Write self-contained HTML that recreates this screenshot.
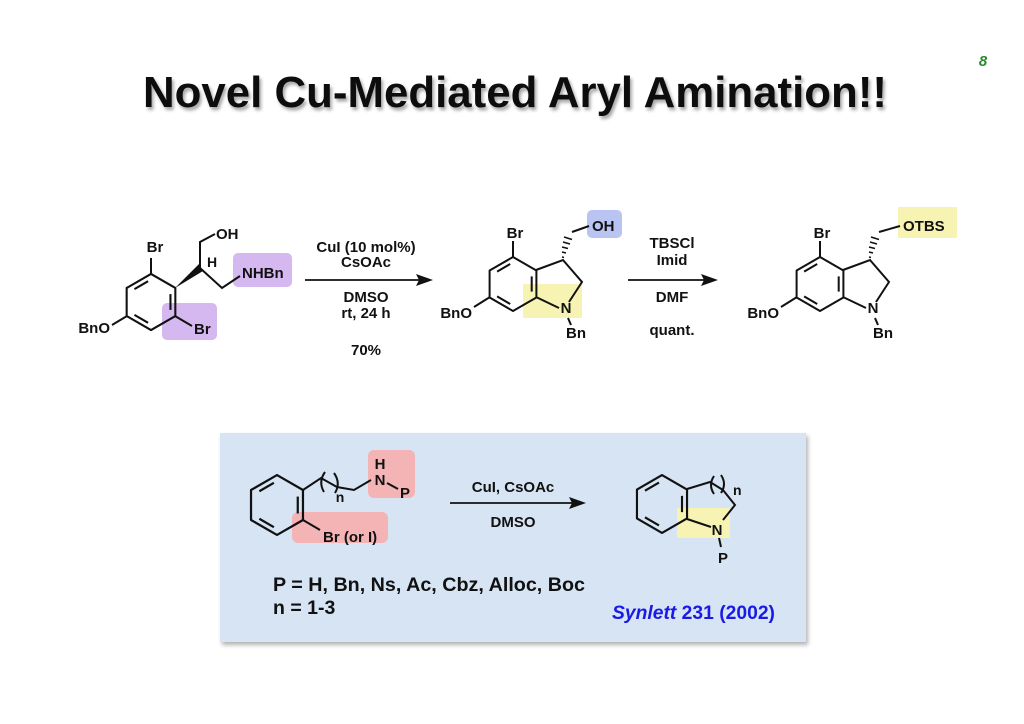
<!DOCTYPE html>
<html><head><meta charset="utf-8"><style>
html,body{margin:0;padding:0;background:#fff;}
svg{display:block;}
text{font-family:"Liberation Sans",Arial,sans-serif;font-weight:bold;fill:#111;}
</style></head><body>
<svg width="1024" height="724" viewBox="0 0 1024 724" xmlns="http://www.w3.org/2000/svg">
<defs>
<filter id="sh" x="-10%" y="-10%" width="130%" height="150%"><feDropShadow dx="2" dy="3" stdDeviation="1.5" flood-color="#000" flood-opacity="0.35"/></filter>
<filter id="bs" x="-5%" y="-5%" width="110%" height="115%"><feDropShadow dx="2" dy="3" stdDeviation="2" flood-color="#000" flood-opacity="0.3"/></filter>
<g id="ring" fill="none" stroke="#111" stroke-width="2" stroke-linejoin="round">
<polygon points="0,-27 23.4,-13.5 23.4,13.5 0,27 -23.4,13.5 -23.4,-13.5"/>
<line x1="-2.8" y1="-20" x2="-15.9" y2="-12.4"/>
<line x1="18.7" y1="-7.6" x2="18.7" y2="7.6"/>
<line x1="-2.8" y1="20" x2="-15.9" y2="12.4"/>
</g>
</defs>

<text x="515" y="107" font-size="44" text-anchor="middle" textLength="744" lengthAdjust="spacingAndGlyphs" filter="url(#sh)">Novel Cu-Mediated Aryl Amination!!</text>
<text x="983" y="66" font-size="15" font-style="italic" style="fill:#2a8a2a" text-anchor="middle">8</text>

<!-- Compound 1 -->
<rect x="233" y="253" width="59" height="34" rx="5" fill="#d6b8f0"/>
<rect x="162" y="303" width="55" height="37" rx="5" fill="#d6b8f0"/>
<use href="#ring" transform="translate(151,302) scale(1.04)"/>
<g stroke="#111" stroke-width="2" fill="none">
<line x1="151" y1="274" x2="151" y2="258"/>
<line x1="127" y1="316" x2="112" y2="325"/>
<line x1="175" y1="316" x2="192" y2="326"/>
<polyline points="200,268 200,242 215,234"/>
<polyline points="200,268 222,288 240,276"/>
</g>
<polygon points="175,288 199,264 203,271" fill="#111"/>
<g font-size="15">
<text x="155" y="252" text-anchor="middle">Br</text>
<text x="110" y="333" text-anchor="end">BnO</text>
<text x="194" y="334">Br</text>
<text x="216" y="239">OH</text>
<text x="242" y="278">NHBn</text>
</g>
<text x="207" y="267" font-size="14">H</text>

<!-- Arrow 1 -->
<line x1="305" y1="280" x2="422" y2="280" stroke="#111" stroke-width="1.8"/>
<polygon points="433,280 416,274 419,280 416,286" fill="#111"/>
<g font-size="15" text-anchor="middle">
<text x="366" y="252">CuI (10 mol%)</text>
<text x="366" y="267">CsOAc</text>
<text x="366" y="302">DMSO</text>
<text x="366" y="318">rt, 24 h</text>
<text x="366" y="355">70%</text>
</g>

<!-- Compound 2 -->
<rect x="523" y="284" width="59" height="34" fill="#f7f3b3"/>
<rect x="587" y="210" width="35" height="28" rx="5" fill="#b9c4f2"/>
<use href="#ring" transform="translate(513,284)"/>
<g stroke="#111" stroke-width="2" fill="none">
<line x1="513" y1="257" x2="513" y2="241"/>
<line x1="490" y1="297" x2="474" y2="307"/>
<polyline points="536,270 563,260 582,282 569,302"/>
<line x1="536" y1="297" x2="559" y2="308"/>
<line x1="568" y1="318" x2="571" y2="325"/>
<line x1="572" y1="232" x2="589" y2="226"/>
</g>
<g stroke="#111" stroke-width="1.5">
<line x1="562" y1="257" x2="564" y2="257.5"/><line x1="562" y1="252" x2="566" y2="253"/><line x1="562" y1="247" x2="568" y2="248.5"/><line x1="563" y1="242" x2="570" y2="244"/><line x1="564" y1="237" x2="572" y2="239.5"/>
</g>
<g font-size="15">
<text x="515" y="238" text-anchor="middle">Br</text>
<text x="472" y="318" text-anchor="end">BnO</text>
<text x="566" y="313" text-anchor="middle">N</text>
<text x="576" y="338" text-anchor="middle">Bn</text>
<text x="592" y="231">OH</text>
</g>

<!-- Arrow 2 -->
<line x1="628" y1="280" x2="708" y2="280" stroke="#111" stroke-width="1.8"/>
<polygon points="718,280 701,274 704,280 701,286" fill="#111"/>
<g font-size="15" text-anchor="middle">
<text x="672" y="248">TBSCl</text>
<text x="672" y="265">Imid</text>
<text x="672" y="302">DMF</text>
<text x="672" y="335">quant.</text>
</g>

<!-- Compound 3 -->
<rect x="898" y="207" width="59" height="31" fill="#f7f3b3"/>
<use href="#ring" transform="translate(820,284)"/>
<g stroke="#111" stroke-width="2" fill="none">
<line x1="820" y1="257" x2="820" y2="241"/>
<line x1="797" y1="297" x2="781" y2="307"/>
<polyline points="843,270 870,260 889,282 876,302"/>
<line x1="843" y1="297" x2="866" y2="308"/>
<line x1="875" y1="318" x2="878" y2="325"/>
<line x1="879" y1="232" x2="900" y2="226"/>
</g>
<g stroke="#111" stroke-width="1.5">
<line x1="869" y1="257" x2="871" y2="257.5"/><line x1="869" y1="252" x2="873" y2="253"/><line x1="869" y1="247" x2="875" y2="248.5"/><line x1="870" y1="242" x2="877" y2="244"/><line x1="871" y1="237" x2="879" y2="239.5"/>
</g>
<g font-size="15">
<text x="822" y="238" text-anchor="middle">Br</text>
<text x="779" y="318" text-anchor="end">BnO</text>
<text x="873" y="313" text-anchor="middle">N</text>
<text x="883" y="338" text-anchor="middle">Bn</text>
<text x="903" y="231">OTBS</text>
</g>

<!-- Bottom box -->
<rect x="220" y="433" width="586" height="209" fill="#d6e4f3" filter="url(#bs)"/>
<rect x="368" y="450" width="47" height="48" rx="6" fill="#f4b4b6"/>
<rect x="292" y="512" width="96" height="31" rx="6" fill="#f4b4b6"/>
<use href="#ring" transform="translate(277,505) scale(1.11)"/>
<g stroke="#111" stroke-width="2" fill="none">
<polyline points="303,490 321,478 337,487 354,490 371,480"/>
<path d="M325,472 Q318,482 324,492"/>
<path d="M334,473 Q341,483 335,493"/>
<line x1="303" y1="520" x2="320" y2="530"/>
<line x1="387" y1="483" x2="398" y2="489"/>
</g>
<g font-size="15">
<text x="380" y="469" text-anchor="middle">H</text>
<text x="380" y="485" text-anchor="middle">N</text>
<text x="405" y="498" text-anchor="middle">P</text>
<text x="323" y="542">Br (or I)</text>
</g>
<text x="340" y="502" font-size="14" text-anchor="middle">n</text>

<line x1="450" y1="503" x2="575" y2="503" stroke="#111" stroke-width="1.8"/>
<polygon points="586,503 569,497 572,503 569,509" fill="#111"/>
<text x="513" y="492" font-size="15" text-anchor="middle">CuI, CsOAc</text>
<text x="513" y="527" font-size="15" text-anchor="middle">DMSO</text>

<rect x="677" y="508" width="53" height="30" fill="#f7f3b3"/>
<use href="#ring" transform="translate(662,504) scale(1.07)"/>
<g stroke="#111" stroke-width="2" fill="none">
<polyline points="687,489 710,482 723,490 735,505 723,520"/>
<path d="M714,476 Q708,485 714,494"/>
<path d="M721,475 Q727,484 721,493"/>
<line x1="687" y1="519" x2="711" y2="527"/>
<line x1="719" y1="538" x2="721" y2="547"/>
</g>
<text x="733" y="495" font-size="14">n</text>
<text x="717" y="535" font-size="15" text-anchor="middle">N</text>
<text x="723" y="563" font-size="15" text-anchor="middle">P</text>

<text x="273" y="591" font-size="19.5" textLength="312" lengthAdjust="spacingAndGlyphs">P = H, Bn, Ns, Ac, Cbz, Alloc, Boc</text>
<text x="273" y="614" font-size="19.5">n = 1-3</text>
<text x="612" y="619" font-size="19" style="fill:#1a1ae6" textLength="163" lengthAdjust="spacingAndGlyphs"><tspan font-style="italic">Synlett</tspan> 231 (2002)</text>
</svg>
</body></html>
